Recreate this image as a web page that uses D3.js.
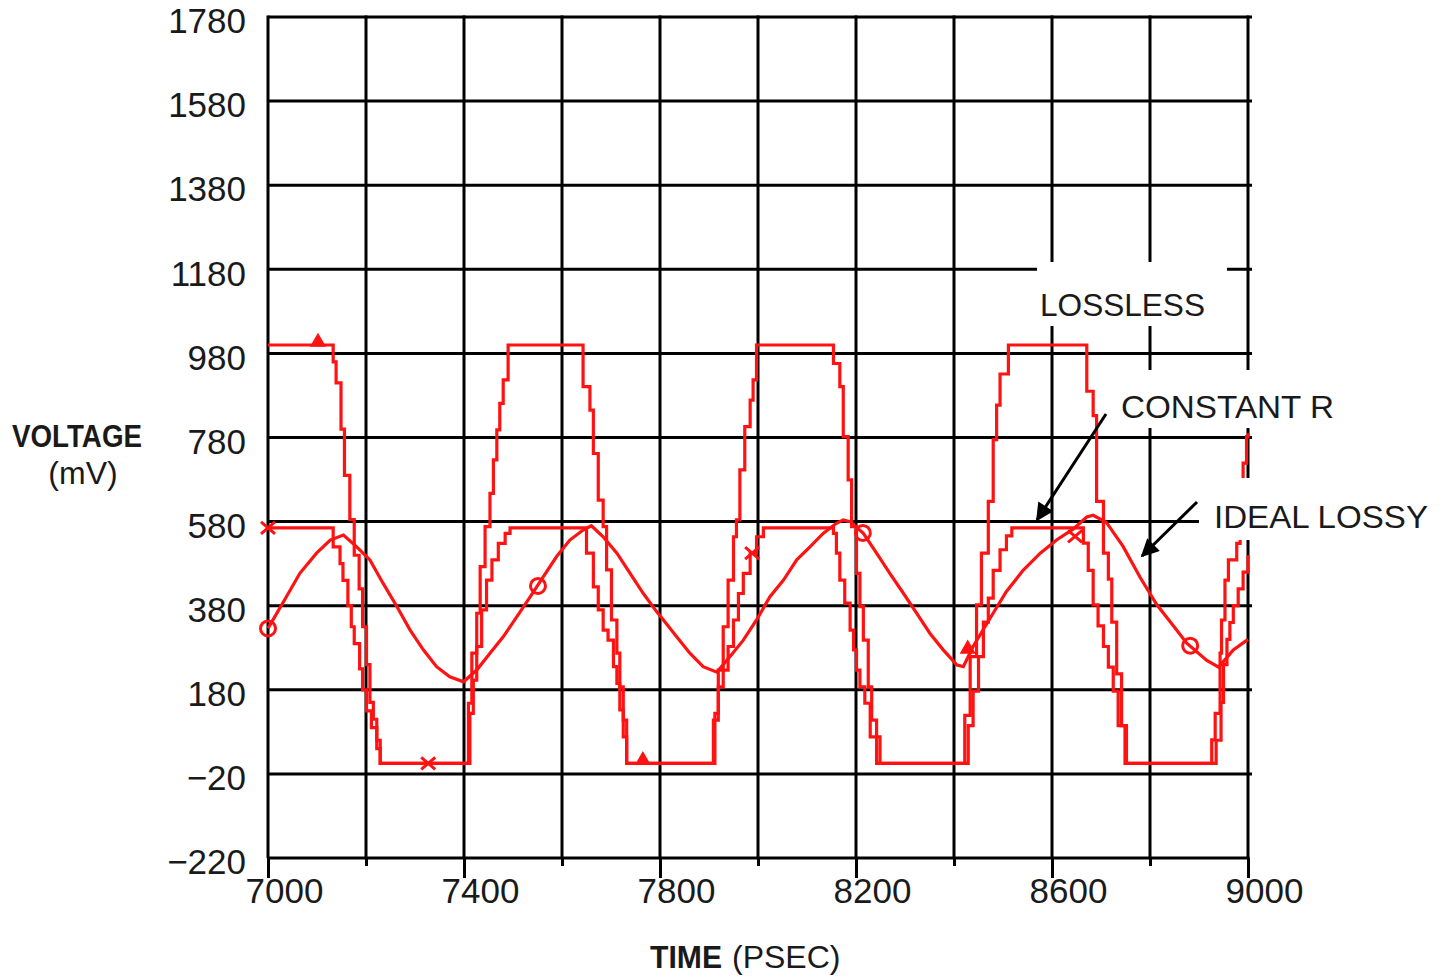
<!DOCTYPE html>
<html>
<head>
<meta charset="utf-8">
<script src="https://cdn.jsdelivr.net/npm/d3@7"></script>
<style>
  body { margin: 0; background: #fff; }
  text { font-family: "Liberation Sans", Arial, sans-serif; fill: #1a1a1a; }
</style>
</head>
<body>
<script>
// tick values
var xTicks = [7000, 7200, 7400, 7600, 7800, 8000, 8200, 8400, 8600, 8800, 9000];
var xLabels = [7000, 7400, 7800, 8200, 8600, 9000];
var yTicks = [-220, -20, 180, 380, 580, 780, 980, 1180, 1380, 1580, 1780];

// lossless trace [psec, mV]
var lossless = [
  [7000,1000],[7127,1000],[7133,960],[7139,910],[7149,800],[7156,690],[7167,585],[7176,500],[7186,420],[7193,330],[7201,240],[7208,150],[7215,110],[7222,60],[7229,5],
  [7399,5],[7409,148],[7416,267],[7426,362],[7433,473],[7443,568],[7453,647],[7460,727],[7467,798],[7473,861],[7480,917],[7490,1000],
  [7637,1000],[7643,901],[7657,845],[7664,742],[7674,631],[7684,568],[7691,465],[7701,346],[7712,267],[7718,187],[7725,108],[7732,5],
  [7902,5],[7909,108],[7919,227],[7929,330],[7939,441],[7950,544],[7956,584],[7963,703],[7973,806],[7984,869],[7990,917],[7997,1000],
  [8147,1000],[8154,956],[8167,901],[8174,782],[8184,679],[8191,568],[8201,457],[8208,378],[8215,298],[8225,187],[8232,108],[8242,5],
  [8412,5],[8422,119],[8433,259],[8446,382],[8456,505],[8470,628],[8480,775],[8487,857],[8494,931],[8511,1000],
  [8661,1000],[8671,890],[8684,832],[8691,628],[8705,505],[8715,443],[8722,341],[8732,218],[8742,95],[8752,5],
  [8919,5],[8926,61],[8933,124],[8943,267],[8946,346],[8953,441],[8960,489],[8977,528],[8984,679],[8990,719],[8997,782],[9000,790]
];

// constant R trace
var constantR = [
  [7000,565],[7130,565],[7133,520],[7147,480],[7153,440],[7163,380],[7170,330],[7176,290],[7187,230],[7193,180],[7201,130],[7211,90],[7222,40],[7229,5],
  [7406,5],[7412,124],[7419,203],[7426,283],[7436,370],[7446,441],[7457,489],[7470,528],[7484,552],[7494,565],
  [7640,565],[7650,505],[7664,425],[7674,370],[7684,322],[7694,298],[7705,235],[7712,195],[7718,132],[7725,68],[7732,5],
  [7906,5],[7912,124],[7919,187],[7929,227],[7939,283],[7950,346],[7960,409],[7970,457],[7984,505],[7997,544],[8011,565],
  [8147,565],[8154,552],[8160,505],[8167,441],[8177,386],[8188,322],[8195,275],[8201,227],[8208,187],[8218,148],[8229,68],[8249,5],
  [8419,5],[8429,95],[8439,177],[8450,259],[8460,341],[8470,398],[8480,464],[8494,513],[8507,546],[8518,565],
  [8661,565],[8664,529],[8674,464],[8684,382],[8694,332],[8705,283],[8715,234],[8725,177],[8735,95],[8749,5],
  [8925,5],[8935,60],[8945,150],[8950,240],[8957,300],[8963,340],[8970,380],[8980,420],[8990,460],[9000,500]
];

// ideal lossy trace
var idealLossy = [
  [7000,326],[7034,394],[7065,457],[7099,505],[7127,536],[7154,548],[7181,520],[7208,489],[7235,433],[7263,378],[7290,322],[7317,275],[7344,235],[7371,211],[7399,199],
  [7426,227],[7453,267],[7480,306],[7508,354],[7535,401],[7562,449],[7589,497],[7616,536],[7643,560],[7660,570],
  [7684,544],[7712,505],[7739,457],[7766,409],[7793,366],[7807,346],[7834,306],[7861,267],[7888,235],[7916,222],
  [7943,259],[7970,298],[7997,346],[8024,401],[8052,441],[8079,489],[8106,520],[8133,552],[8160,576],[8174,584],
  [8188,580],[8215,552],[8242,505],[8269,457],[8297,409],[8324,362],[8351,314],[8378,275],[8406,239],[8419,235],
  [8439,283],[8473,349],[8507,414],[8541,464],[8576,505],[8610,537],[8643,562],[8671,591],[8684,595],
  [8711,578],[8745,521],[8780,447],[8814,382],[8848,332],[8875,291],[8916,250],[8940,234],
  [8970,275],[9000,300]
];

// marker positions
var losslessMarks = [[7102,1000],[7765,5],[8428,270]];
var constantRMarks = [[7000,565],[7327,5],[7988,505],[8647,545]];
var idealLossyMarks = [[7000,326],[7551,427],[8214,553],[8882,285]];

var red = "#ff1212";

var svg = d3.select("body").append("svg")
    .attr("width", 1447)
    .attr("height", 977);

var x = d3.scaleLinear().domain([7000, 9000]).range([268, 1248]);
var y = d3.scaleLinear().domain([-220, 1780]).range([858, 17]);

// grid
svg.append("g").selectAll("line.v")
    .data(xTicks)
    .enter().append("line")
    .attr("x1", function(d) { return x(d); })
    .attr("x2", function(d) { return x(d); })
    .attr("y1", y(1780) - 1.5)
    .attr("y2", y(-220))
    .attr("stroke", "#000")
    .attr("stroke-width", 3);

svg.append("g").selectAll("line.h")
    .data(yTicks)
    .enter().append("line")
    .attr("x1", x(7000))
    .attr("x2", function(d) { return d == -220 ? x(9000) + 1.5 : x(9000) + 4; })
    .attr("y1", function(d) { return y(d); })
    .attr("y2", function(d) { return y(d); })
    .attr("stroke", "#000")
    .attr("stroke-width", 3);

// minor ticks below x axis
var minorAxis = svg.append("g")
    .attr("transform", "translate(0," + y(-220) + ")")
    .call(d3.axisBottom(x).tickValues(xTicks).tickSize(8).tickFormat(""));
minorAxis.select(".domain").remove();
minorAxis.selectAll("line").attr("stroke", "#000").attr("stroke-width", 3);

// labelled x axis
var xAxis = svg.append("g")
    .attr("transform", "translate(0," + y(-220) + ")")
    .call(d3.axisBottom(x).tickValues(xLabels).tickSize(20).tickPadding(0).tickFormat(d3.format("d")));
xAxis.select(".domain").remove();
xAxis.selectAll("line").attr("stroke", "#000").attr("stroke-width", 3);
xAxis.selectAll("text")
    .attr("font-size", 35)
    .attr("font-family", "Liberation Sans, Arial, sans-serif")
    .attr("fill", "#1a1a1a")
    .attr("dx", 16);

// y axis labels
var yAxis = svg.append("g")
    .attr("transform", "translate(" + x(7000) + ",0)")
    .call(d3.axisLeft(y).tickValues(yTicks).tickSize(0).tickPadding(22)
        .tickFormat(function(d) { return d < 0 ? "\u2212" + Math.abs(d) : d; }));
yAxis.select(".domain").remove();
yAxis.selectAll("text")
    .attr("font-size", 35)
    .attr("font-family", "Liberation Sans, Arial, sans-serif")
    .attr("fill", "#1a1a1a")
    .attr("dy", "0.45em");

// traces
var stepLine = d3.line()
    .x(function(d) { return x(d[0]); })
    .y(function(d) { return y(d[1]); })
    .curve(d3.curveStepAfter);

var smoothLine = d3.line()
    .x(function(d) { return x(d[0]); })
    .y(function(d) { return y(d[1]); });

svg.append("path").datum(idealLossy)
    .attr("d", smoothLine)
    .attr("fill", "none").attr("stroke", red).attr("stroke-width", 3.2);

svg.append("path").datum(constantR)
    .attr("d", stepLine)
    .attr("fill", "none").attr("stroke", red).attr("stroke-width", 3.2);

svg.append("path").datum(lossless)
    .attr("d", stepLine)
    .attr("fill", "none").attr("stroke", red).attr("stroke-width", 3.2);

// markers
svg.selectAll("path.tri")
    .data(losslessMarks)
    .enter().append("path")
    .attr("class", "tri")
    .attr("d", d3.symbol().type(d3.symbolTriangle).size(70))
    .attr("transform", function(d) { return "translate(" + x(d[0]) + "," + (y(d[1]) - 3) + ")"; })
    .attr("fill", red).attr("stroke", red).attr("stroke-width", 2);

svg.selectAll("path.cross")
    .data(constantRMarks)
    .enter().append("path")
    .attr("class", "cross")
    .attr("d", "M-7,-6L7,6M-7,6L7,-6")
    .attr("transform", function(d) { return "translate(" + x(d[0]) + "," + y(d[1]) + ")"; })
    .attr("fill", "none").attr("stroke", red).attr("stroke-width", 3);

svg.selectAll("circle.mark")
    .data(idealLossyMarks)
    .enter().append("circle")
    .attr("class", "mark")
    .attr("cx", function(d) { return x(d[0]); })
    .attr("cy", function(d) { return y(d[1]); })
    .attr("r", 7.5)
    .attr("fill", "none").attr("stroke", red).attr("stroke-width", 3);

// label boxes mask the grid and traces
var labels = [
  {text: "LOSSLESS", box: [1037, 262, 190, 64], tx: 1040, ty: 316, w: 165},
  {text: "CONSTANT R", box: [1113, 370, 227, 58], tx: 1121, ty: 418, w: 213},
  {text: "IDEAL LOSSY", box: [1199, 478, 241, 62], tx: 1214, ty: 528, w: 214}
];

svg.selectAll("rect.lbl")
    .data(labels)
    .enter().append("rect")
    .attr("x", function(d) { return d.box[0]; })
    .attr("y", function(d) { return d.box[1]; })
    .attr("width", function(d) { return d.box[2]; })
    .attr("height", function(d) { return d.box[3]; })
    .attr("fill", "#fff");

svg.selectAll("text.lbl")
    .data(labels)
    .enter().append("text")
    .attr("x", function(d) { return d.tx; })
    .attr("y", function(d) { return d.ty; })
    .attr("font-size", 32)
    .attr("textLength", function(d) { return d.w; })
    .attr("lengthAdjust", "spacingAndGlyphs")
    .text(function(d) { return d.text; });

// arrows
svg.append("defs").append("marker")
    .attr("id", "head")
    .attr("viewBox", "0 0 10 10")
    .attr("refX", 9).attr("refY", 5)
    .attr("markerWidth", 8).attr("markerHeight", 6)
    .attr("markerUnits", "strokeWidth")
    .attr("orient", "auto")
  .append("path")
    .attr("d", "M0,0L10,5L0,10Z")
    .attr("fill", "#000");

svg.append("line")
    .attr("x1", 1106).attr("y1", 414).attr("x2", 1037).attr("y2", 520)
    .attr("stroke", "#000").attr("stroke-width", 3)
    .attr("marker-end", "url(#head)");

svg.append("line")
    .attr("x1", 1197).attr("y1", 502).attr("x2", 1142).attr("y2", 556)
    .attr("stroke", "#000").attr("stroke-width", 3)
    .attr("marker-end", "url(#head)");

// axis titles
svg.append("text")
    .attr("x", 12).attr("y", 447)
    .attr("font-size", 32).attr("font-weight", "bold")
    .attr("textLength", 130).attr("lengthAdjust", "spacingAndGlyphs")
    .text("VOLTAGE");

svg.append("text")
    .attr("x", 83).attr("y", 484)
    .attr("text-anchor", "middle")
    .attr("font-size", 32)
    .text("(mV)");

var tTitle = svg.append("text")
    .attr("x", 650).attr("y", 968)
    .attr("font-size", 32);
tTitle.append("tspan").attr("font-weight", "bold")
    .attr("textLength", 72).attr("lengthAdjust", "spacingAndGlyphs")
    .text("TIME");
tTitle.append("tspan").attr("dx", 10).text("(PSEC)");
</script>
</body>
</html>
